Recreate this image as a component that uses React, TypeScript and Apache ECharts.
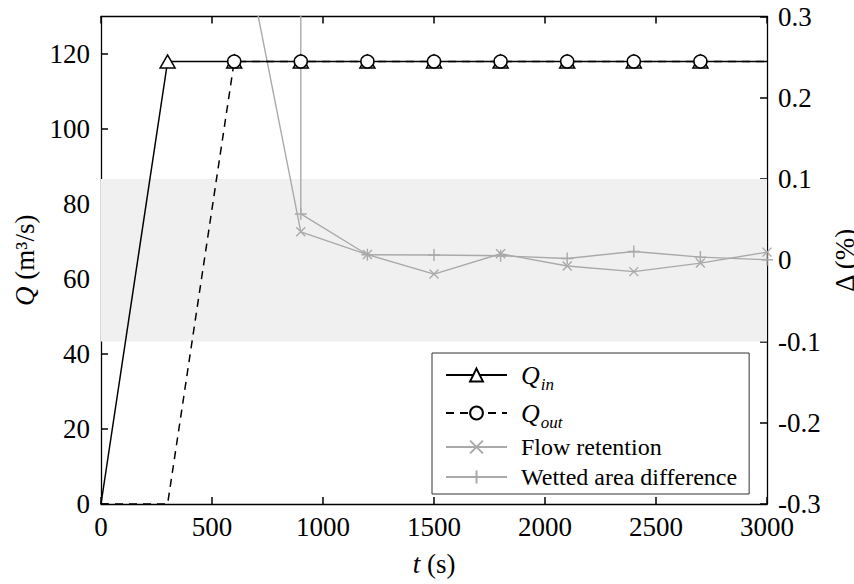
import React, { useEffect, useRef } from "react";
import * as echarts from "echarts";

const FONT = "Liberation Serif";
const BLACK = "#000000";
const GRAY = "#a9a9a9";

// time (s)
const tQin = [0, 300, 600, 900, 1200, 1500, 1800, 2100, 2400, 2700, 3000];
const qIn = [0, 118, 118, 118, 118, 118, 118, 118, 118, 118, 118];
const tQout = [0, 300, 600, 900, 1200, 1500, 1800, 2100, 2400, 2700, 3000];
const qOut = [0, 0, 118, 118, 118, 118, 118, 118, 118, 118, 118];

const tFlow = [600, 900, 1200, 1500, 1800, 2100, 2400, 2700, 3000];
const flowRetention = [0.45, 0.035, 0.007, -0.017, 0.008, -0.007, -0.014, -0.0035, 0.01];

const tWet = [900, 900, 1200, 1500, 1800, 2100, 2400, 2700, 3000];
const wettedDiff = [5, 0.057, 0.0068, 0.0064, 0.0055, 0.0022, 0.0108, 0.0039, 0.0006];

const xTicks = { min: 0, max: 3000, interval: 500 };
const qTicks = { min: 0, max: 130, interval: 20 };
const dTicks = { min: -0.3, max: 0.3, interval: 0.1 };
const band = [-0.1, 0.1];

const NAMES = ["Qin", "Qout", "Flow retention", "Wetted area difference"];

const X_PATH = "path://M0,0L10,10M10,0L0,10";
const PLUS_PATH = "path://M5,0L5,10M0,5L10,5";

const fmtNum = (v: number) => {
  const r = Math.round(v * 1000) / 1000;
  return String(r);
};

export default function App() {
  const ref = useRef<HTMLDivElement>(null);
  useEffect(() => {
    if (!ref.current) return;
    const chart = echarts.init(ref.current, null, { renderer: "svg" });
    const labelStyle = { color: BLACK, fontFamily: FONT, fontSize: 27 };
    const axisLine = { show: true, onZero: false, lineStyle: { color: BLACK, width: 1.3 } };
    const tick = { show: true, inside: true, length: 7, lineStyle: { color: BLACK, width: 1.5 } };

    const withEnds = (ts: number[], vs: number[], symbol: string, hideIdx: number[]) =>
      ts.map((t, i) =>
        hideIdx.includes(i) ? { value: [t, vs[i]], symbol: "none" } : { value: [t, vs[i]], symbol }
      );

    chart.setOption({
      animation: false,
      backgroundColor: "#ffffff",
      grid: {
        left: 101,
        right: 87,
        top: 16.5,
        bottom: 80,
        containLabel: false,
        outerBoundsMode: "none",
      },
      xAxis: [
        {
          type: "value",
          position: "bottom",
          ...xTicks,
          axisLine,
          axisTick: tick,
          splitLine: { show: false },
          axisLabel: { ...labelStyle, margin: 9, formatter: fmtNum },
          name: "{i|t} (s)",
          nameLocation: "middle",
          nameGap: 46,
          nameTextStyle: {
            ...labelStyle,
            rich: { i: { fontFamily: FONT, fontSize: 27, fontStyle: "italic", color: BLACK } },
          },
        },
        {
          type: "value",
          position: "top",
          ...xTicks,
          axisLine,
          axisTick: tick,
          splitLine: { show: false },
          axisLabel: { show: false },
        },
      ],
      yAxis: [
        {
          type: "value",
          position: "left",
          ...qTicks,
          axisLine,
          axisTick: tick,
          splitLine: { show: false },
          axisLabel: { ...labelStyle, margin: 11, showMaxLabel: false, formatter: fmtNum },
          name: "{i|Q} (m³/s)",
          nameLocation: "middle",
          nameRotate: 90,
          nameGap: 54,
          nameTextStyle: {
            ...labelStyle,
            rich: { i: { fontFamily: FONT, fontSize: 27, fontStyle: "italic", color: BLACK } },
          },
        },
        {
          type: "value",
          position: "right",
          ...dTicks,
          axisLine,
          axisTick: tick,
          splitLine: { show: false },
          axisLabel: { ...labelStyle, margin: 11, formatter: fmtNum },
          name: "Δ (%)",
          nameLocation: "middle",
          nameRotate: 90,
          nameGap: 50,
          nameTextStyle: { ...labelStyle },
        },
      ],
      legend: {
        show: true,
        orient: "vertical",
        left: 432,
        top: 353,
        z: 20,
        data: NAMES,
        itemWidth: 61,
        itemHeight: 16,
        itemGap: 2,
        padding: [4, 12, 3, 13],
        backgroundColor: "#ffffff",
        borderColor: "#333333",
        borderWidth: 1,
        borderRadius: 0,
        selectedMode: false,
        formatter: (name: string) => {
          if (name === "Qin") return "{q|Q}{s|in}";
          if (name === "Qout") return "{q|Q}{s|out}";
          return name;
        },
        textStyle: {
          color: BLACK,
          fontFamily: FONT,
          fontSize: 24,
          lineHeight: 28,
          padding: [0, 0, 0, 9],
          rich: {
            q: { fontFamily: FONT, fontSize: 26, fontStyle: "italic", lineHeight: 30, color: BLACK },
            s: {
              fontFamily: FONT,
              fontSize: 17,
              fontStyle: "italic",
              lineHeight: 14,
              padding: [19, 0, 0, 1],
              color: BLACK,
            },
          },
        },
      },
      series: [
        {
          name: "band",
          type: "line",
          yAxisIndex: 1,
          data: [],
          showSymbol: false,
          symbol: "none",
          lineStyle: { width: 0, opacity: 0 },
          z: 0,
          silent: true,
          markArea: {
            silent: true,
            itemStyle: { color: "#f0f0f0" },
            data: [[{ yAxis: band[0] }, { yAxis: band[1] }]],
          },
        },
        {
          name: "Flow retention",
          type: "line",
          yAxisIndex: 1,
          data: tFlow.map((t, i) => [t, flowRetention[i]]),
          symbol: X_PATH,
          symbolSize: 9,
          lineStyle: { color: GRAY, width: 1.4 },
          itemStyle: { color: "transparent", borderColor: GRAY, borderWidth: 1.4 },
          z: 3,
        },
        {
          name: "Wetted area difference",
          type: "line",
          yAxisIndex: 1,
          data: tWet.map((t, i) => [t, wettedDiff[i]]),
          symbol: PLUS_PATH,
          symbolSize: 12,
          lineStyle: { color: GRAY, width: 1.4 },
          itemStyle: { color: "transparent", borderColor: GRAY, borderWidth: 1.4 },
          z: 3,
        },
        {
          name: "Qin",
          type: "line",
          yAxisIndex: 0,
          data: withEnds(tQin, qIn, "triangle", [0, tQin.length - 1]),
          symbol: "triangle",
          symbolSize: [15, 13],
          lineStyle: { color: BLACK, width: 1.5 },
          itemStyle: { color: "#ffffff", borderColor: BLACK, borderWidth: 1.5 },
          z: 4,
        },
        {
          name: "Qout",
          type: "line",
          yAxisIndex: 0,
          data: withEnds(tQout, qOut, "circle", [0, 1, tQout.length - 1]),
          symbol: "circle",
          symbolSize: 13,
          lineStyle: { color: BLACK, width: 1.5, type: [8, 6] },
          itemStyle: { color: "#ffffff", borderColor: BLACK, borderWidth: 1.5 },
          z: 5,
        },
      ],
    });
    ref.current.querySelectorAll("text, tspan").forEach((el) => {
      (el as SVGElement).style.fontFamily = '"Liberation Serif", serif';
    });
    return () => chart.dispose();
  }, []);
  return (
    <div
      ref={ref}
      style={{ position: "fixed", left: 0, top: 0, width: 854, height: 584, background: "#fff" }}
    />
  );
}
